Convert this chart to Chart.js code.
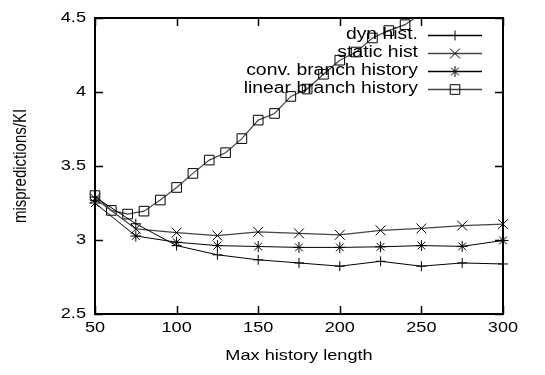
<!DOCTYPE html>
<html><head><meta charset="utf-8">
<script src="https://cdn.jsdelivr.net/npm/chart.js@4/dist/chart.umd.min.js"></script>
<style>html,body{margin:0;padding:0;background:#fff}#wrap{width:545px;height:375px}</style>
</head><body><div id="wrap"><canvas id="c" width="545" height="375"></canvas></div>
<script>
// ---- data ----
const xTicks = [50, 100, 150, 200, 250, 300];
const yTicks = [2.5, 3, 3.5, 4, 4.5];
const histLen = [50, 75, 100, 125, 150, 175, 200, 225, 250, 275, 300];
const dynHist = [3.29, 3.11, 2.962, 2.90, 2.866, 2.845, 2.823, 2.856, 2.823, 2.845, 2.838];
const staticHist = [3.28, 3.075, 3.05, 3.03, 3.055, 3.045, 3.035, 3.065, 3.078, 3.097, 3.107];
const convHist = [3.25, 3.027, 2.985, 2.962, 2.956, 2.95, 2.95, 2.954, 2.962, 2.957, 2.997];
const linearLen = [50, 60, 70, 80, 90, 100, 110, 120, 130, 140, 150, 160, 170, 180, 190, 200, 210, 220, 230, 240, 250];
const linearHist = [3.30, 3.20, 3.175, 3.195, 3.27, 3.355, 3.45, 3.54, 3.59, 3.685, 3.81, 3.855, 3.97, 4.02, 4.12, 4.215, 4.27, 4.365, 4.415, 4.455, 4.53];
const seriesNames = ['dyn hist.', 'static hist', 'conv. branch history', 'linear branch history'];
const xTitle = 'Max history length';
const yTitle = 'mispredictions/KI';

const FONT = 'Liberation Sans, Arial, Helvetica, sans-serif';
const STRETCH = 1.21;

const toPts = (xs, ys) => xs.map((x, i) => ({x, y: ys[i]}));

const styles = [
  {pointStyle: 'cross', radius: 5, color: '#000', width: 1},
  {pointStyle: 'crossRot', radius: 7, color: '#444', width: 1.2},
  {pointStyle: 'star', radius: 5.5, color: '#000', width: 1},
  {pointStyle: 'rect', radius: 6.8, color: '#444', width: 1.2}
];

function ds(label, pts, st, clip) {
  return {
    label, data: pts,
    borderColor: st.color, borderWidth: st.width,
    pointStyle: st.pointStyle, pointRadius: st.radius, pointHoverRadius: st.radius,
    pointBorderColor: '#000', pointBorderWidth: 1,
    pointBackgroundColor: 'rgba(0,0,0,0)',
    backgroundColor: 'rgba(0,0,0,0)',
    fill: false, tension: 0,
    clip: clip
  };
}

const noClip = {left: false, top: false, right: false, bottom: false};

// horizontal stretch of text (reference text is wider than tall)
const stretchPlugin = {
  id: 'stretch',
  beforeInit(chart) {
    const ctx = chart.ctx;
    const orig = ctx.fillText.bind(ctx);
    ctx.fillText = function (t, x, y) {
      const m = ctx.getTransform();
      const p = m.transformPoint(new DOMPoint(x, y));
      ctx.save();
      ctx.setTransform(new DOMMatrix().translate(p.x, p.y).scale(STRETCH, 1).translate(-p.x, -p.y).multiply(m));
      orig(t, x, y);
      ctx.restore();
    };
  }
};

const framePlugin = {
  id: 'frame',
  beforeDatasetsDraw(chart) {
    const {ctx, chartArea: a, scales} = chart;
    ctx.save();
    ctx.strokeStyle = '#000';
    ctx.lineWidth = 1.5;
    const TL = 8;
    ctx.beginPath();
    xTicks.forEach(v => {
      const px = Math.round(scales.x.getPixelForValue(v)) + 0.5;
      ctx.moveTo(px, a.bottom); ctx.lineTo(px, a.bottom - TL);
      ctx.moveTo(px, a.top); ctx.lineTo(px, a.top + TL);
    });
    yTicks.forEach(v => {
      const py = Math.round(scales.y.getPixelForValue(v)) + 0.5;
      ctx.moveTo(a.left, py); ctx.lineTo(a.left + TL, py);
      ctx.moveTo(a.right, py); ctx.lineTo(a.right - TL, py);
    });
    ctx.stroke();
    ctx.lineWidth = 2;
    ctx.strokeRect(a.left, a.top, a.right - a.left, a.bottom - a.top);
    ctx.restore();
  },
  afterDatasetsDraw(chart) {
    const ctx = chart.ctx;
    ctx.save();
    ctx.font = '16px ' + FONT;
    ctx.textAlign = 'right';
    ctx.textBaseline = 'middle';
    ctx.fillStyle = '#000';
    const rows = [35, 53, 71, 89];
    const textRight = 418, l0 = 428, l1 = 482, mx = 455;
    seriesNames.forEach((name, i) => {
      const y = rows[i];
      const st = styles[i];
      ctx.fillText(name, textRight, y);
      ctx.strokeStyle = st.color;
      ctx.lineWidth = st.width + 0.3;
      ctx.beginPath(); ctx.moveTo(l0, y + 0.5); ctx.lineTo(l1, y + 0.5); ctx.stroke();
      ctx.strokeStyle = '#000';
      ctx.lineWidth = 1;
      ctx.fillStyle = 'rgba(0,0,0,0)';
      Chart.helpers.drawPoint(ctx, {pointStyle: st.pointStyle, radius: st.radius, rotation: 0, borderWidth: 1}, mx, y + 0.5);
      ctx.fillStyle = '#000';
    });
    ctx.restore();
  }
};

new Chart(document.getElementById('c'), {
  type: 'line',
  data: {
    datasets: [
      ds(seriesNames[0], toPts(histLen, dynHist), styles[0], noClip),
      ds(seriesNames[1], toPts(histLen, staticHist), styles[1], noClip),
      ds(seriesNames[2], toPts(histLen, convHist), styles[2], noClip),
      ds(seriesNames[3], toPts(linearLen, linearHist), styles[3], {left: false, top: 0, right: false, bottom: false})
    ]
  },
  options: {
    responsive: false,
    devicePixelRatio: 1,
    animation: false,
    layout: {padding: {top: 16, right: 42, left: 0, bottom: 0}},
    plugins: {legend: {display: false}, tooltip: {enabled: false}},
    scales: {
      x: {
        type: 'linear', min: 50, max: 300,
        afterFit: s => { s.height = 61; },
        afterBuildTicks: s => { s.ticks = xTicks.map(v => ({value: v})); },
        grid: {display: false, drawTicks: false},
        border: {display: false},
        ticks: {color: '#000', font: {family: FONT, size: 15}, padding: 5, maxRotation: 0, autoSkip: false},
        title: {display: true, text: xTitle, color: '#000', font: {family: FONT, size: 15}, padding: {top: 0, bottom: 10}}
      },
      y: {
        type: 'linear', min: 2.5, max: 4.5,
        afterFit: s => { s.width = 95; },
        afterBuildTicks: s => { s.ticks = yTicks.map(v => ({value: v})); },
        grid: {display: false, drawTicks: false},
        border: {display: false},
        ticks: {color: '#000', font: {family: FONT, size: 15}, padding: 9, callback: v => String(v)},
        title: {display: true, text: yTitle, color: '#000', font: {family: FONT, size: 15}, padding: {top: 12, bottom: 0}}
      }
    }
  },
  plugins: [stretchPlugin, framePlugin]
});
</script>
</body></html>
